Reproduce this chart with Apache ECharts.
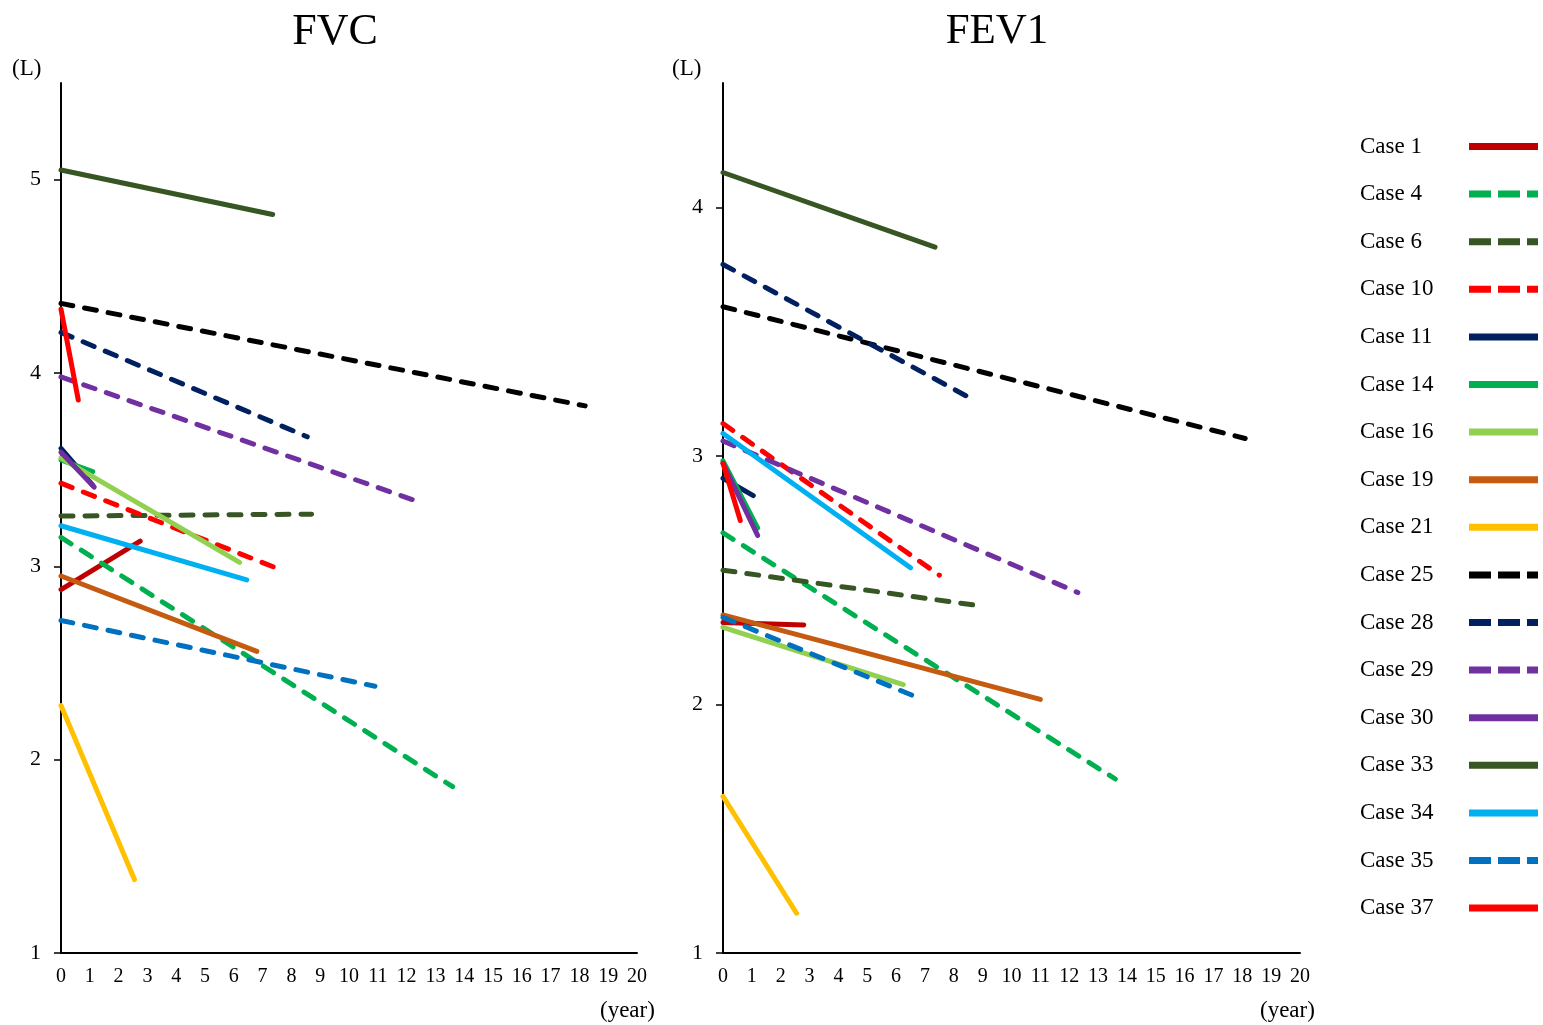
<!DOCTYPE html>
<html>
<head>
<meta charset="utf-8">
<title>FVC / FEV1</title>
<script src="https://cdn.jsdelivr.net/npm/echarts@6/dist/echarts.min.js"></script>
<style>
  html, body { margin: 0; padding: 0; background: #fff; }
  #main { width: 1543px; height: 1025px; }
</style>
</head>
<body>
<div id="main"></div>
<script>
// cases shown in the legend
const caseNames = ["Case 1", "Case 4", "Case 6", "Case 10", "Case 11", "Case 14", "Case 16", "Case 19", "Case 21",
  "Case 25", "Case 28", "Case 29", "Case 30", "Case 33", "Case 34", "Case 35", "Case 37"];

// FVC (L): value at year 0, value at last visit, years of follow-up
const fvcStart = [2.88, 3.15, 3.26, 3.43, 3.61, 3.55, 3.56, 2.95, 2.28, 4.36, 4.21, 3.98, 3.59, 5.05, 3.21, 2.72, 4.33];
const fvcEnd   = [3.13, 1.86, 3.27, 2.99, 3.42, 3.49, 3.02, 2.56, 1.38, 3.83, 3.67, 3.34, 3.41, 4.82, 2.93, 2.38, 3.86];
const fvcYears = [2.75, 13.6, 8.7, 7.5, 1.1, 1.1, 6.2, 6.8, 2.55, 18.2, 8.55, 12.3, 1.15, 7.35, 6.45, 10.9, 0.6];

// FEV1 (L)
const fev1Start = [2.33, 2.69, 2.54, 3.13, 2.91, 2.98, 2.31, 2.36, 1.63, 3.60, 3.77, 3.06, 2.97, 4.14, 3.09, 2.35, 2.97];
const fev1End   = [2.32, 1.70, 2.40, 2.52, 2.84, 2.71, 2.08, 2.02, 1.16, 3.07, 3.24, 2.45, 2.68, 3.84, 2.55, 2.03, 2.74];
const fev1Years = [2.8, 13.6, 8.7, 7.5, 1.05, 1.2, 6.25, 11.0, 2.55, 18.1, 8.45, 12.3, 1.2, 7.35, 6.5, 6.7, 0.6];

// axis ticks
const yearTicks = [0, 1, 2, 3, 4, 5, 6, 7, 8, 9, 10, 11, 12, 13, 14, 15, 16, 17, 18, 19, 20];
const fvcTicks = [1, 2, 3, 4, 5];
const fev1Ticks = [1, 2, 3, 4];

// line look per case
const caseColors = ["#C00000", "#00B050", "#375623", "#FF0000", "#002060", "#00B050", "#92D050", "#C55A11", "#FFC000",
  "#000000", "#002060", "#7030A0", "#7030A0", "#375623", "#00B0F0", "#0070C0", "#FF0000"];
const caseDashed = [false, true, true, true, false, false, false, false, false,
  true, true, true, false, false, false, true, false];

const serif = "Liberation Serif";

function xAxisFor(gridIndex) {
  return {
    gridIndex: gridIndex,
    type: "value",
    min: 0,
    max: 20,
    interval: 1,
    axisLine: { lineStyle: { color: "#000", width: 2 } },
    axisTick: { show: false },
    axisLabel: { color: "#000", fontFamily: serif, fontSize: 20, margin: 14, customValues: yearTicks },
    splitLine: { show: false },
  };
}

function yAxisFor(gridIndex, max, ticks) {
  return {
    gridIndex: gridIndex,
    type: "value",
    min: 1,
    max: max,
    interval: 1,
    axisLine: { show: true, lineStyle: { color: "#000", width: 2 } },
    axisTick: { show: true, inside: false, length: 7, lineStyle: { color: "#000", width: 1.5 }, customValues: ticks },
    axisLabel: { color: "#000", fontFamily: serif, fontSize: 22, margin: 20, customValues: ticks },
    splitLine: { show: false },
  };
}

const series = [];
caseNames.forEach((name, i) => {
  const lineStyle = {
    color: caseColors[i],
    width: 5,
    cap: "round",
    type: caseDashed[i] ? [12, 12] : "solid",
  };
  series.push({
    name: name,
    type: "line",
    xAxisIndex: 0,
    yAxisIndex: 0,
    symbol: "none",
    silent: true,
    color: caseColors[i],
    lineStyle: lineStyle,
    data: [[0, fvcStart[i]], [fvcYears[i], fvcEnd[i]]],
  });
  series.push({
    name: name,
    type: "line",
    xAxisIndex: 1,
    yAxisIndex: 1,
    symbol: "none",
    silent: true,
    color: caseColors[i],
    lineStyle: lineStyle,
    data: [[0, fev1Start[i]], [fev1Years[i], fev1End[i]]],
  });
});

// legend entries: thick line sample, symbol hidden
const legendData = caseNames.map((name, i) => ({
  name: name,
  itemStyle: { opacity: 0 },
  lineStyle: { width: 7, cap: "butt", color: caseColors[i], type: caseDashed[i] ? [22, 7] : "solid" },
}));

const myChart = echarts.init(document.getElementById("main"));
const titleStyle = { fontFamily: serif, fontWeight: "normal", color: "#000" };
const option = {
  animation: false,
  backgroundColor: "#fff",
  title: [
    { text: "FVC", left: 330, top: 5, textAlign: "center", textStyle: { ...titleStyle, fontSize: 44 } },
    { text: "FEV1", left: 992, top: 5, textAlign: "center", textStyle: { ...titleStyle, fontSize: 43 } },
    { text: "(L)", left: 7, top: 52, textStyle: { ...titleStyle, fontSize: 23 } },
    { text: "(L)", left: 667, top: 52, textStyle: { ...titleStyle, fontSize: 23 } },
    { text: "(year)", left: 595, top: 994, textStyle: { ...titleStyle, fontSize: 23 } },
    { text: "(year)", left: 1255, top: 994, textStyle: { ...titleStyle, fontSize: 23 } },
  ],
  legend: {
    data: legendData,
    orient: "vertical",
    align: "right",
    left: 1355,
    top: 130,
    itemWidth: 69,
    itemHeight: 14,
    itemGap: 24.6,
    selectedMode: false,
    formatter: (name) => `{n|${name}}`,
    textStyle: {
      color: "#000",
      fontFamily: serif,
      fontSize: 23,
      rich: {
        n: { width: 104, align: "left", fontFamily: serif, fontSize: 23, lineHeight: 20, color: "#000" },
      },
    },
  },
  grid: [
    { left: 61, top: 83, width: 576, height: 870 },
    { left: 723, top: 83, width: 577, height: 870 },
  ],
  xAxis: [xAxisFor(0), xAxisFor(1)],
  yAxis: [yAxisFor(0, 5.5, fvcTicks), yAxisFor(1, 4.5, fev1Ticks)],
  series: series,
};

option && myChart.setOption(option);
</script>
</body>
</html>
